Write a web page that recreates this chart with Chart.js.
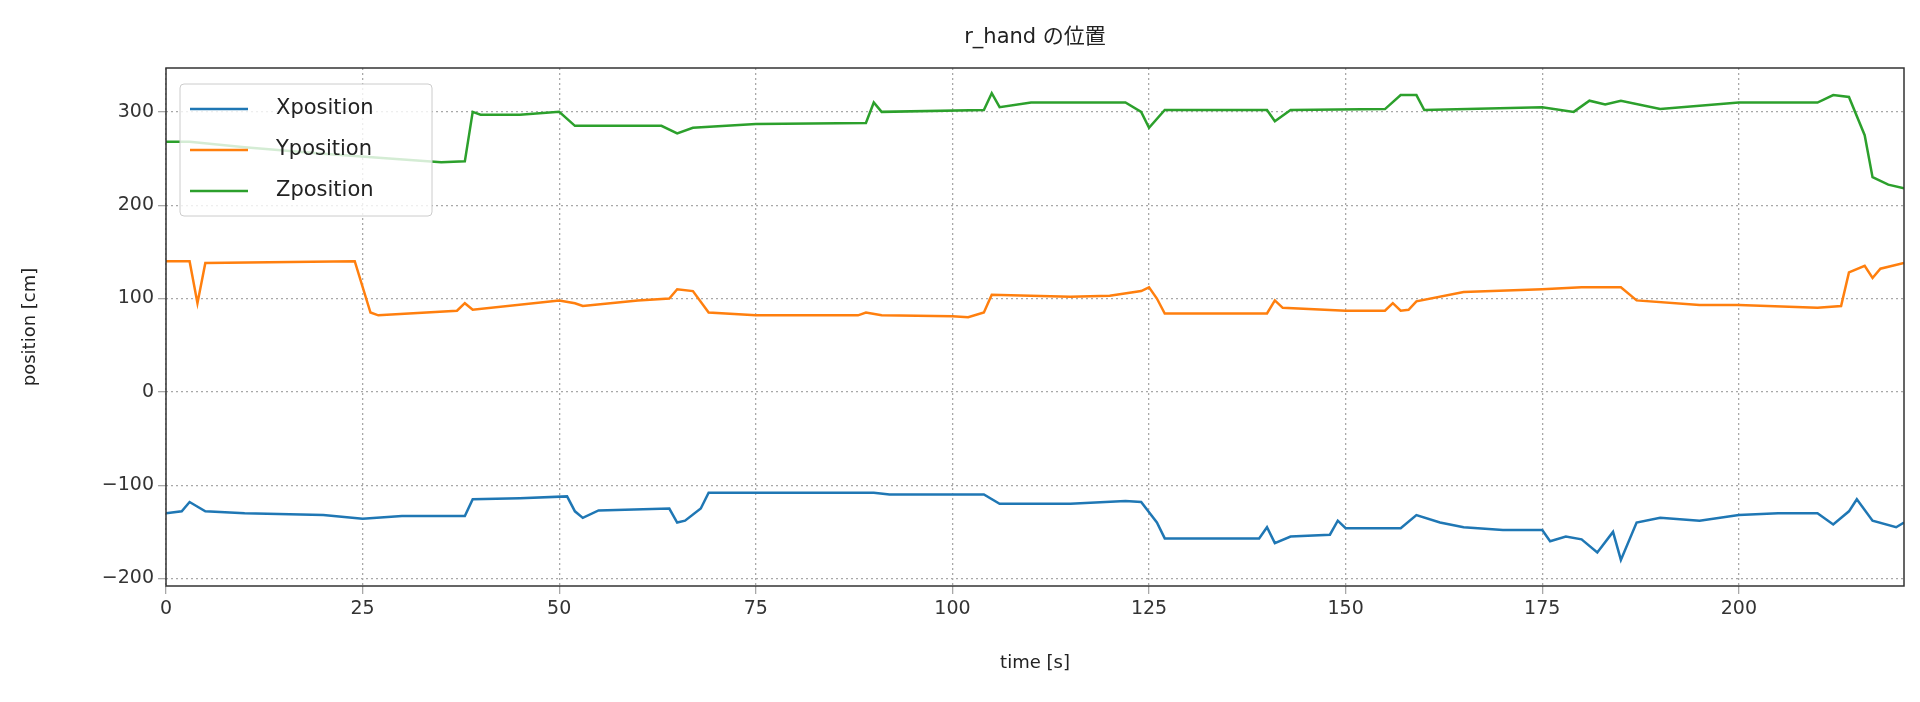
<!DOCTYPE html>
<html><head><meta charset="utf-8">
<script src="https://cdn.jsdelivr.net/npm/chart.js@4/dist/chart.umd.min.js"></script>
<style>html,body{margin:0;padding:0;background:#fff}canvas{display:block}</style>
</head><body>
<div style="width:1920px;height:702px"><canvas id="c" width="1920" height="702"></canvas></div>
<script>
const seriesNames = ["Xposition","Yposition","Zposition"];
const xTime = [0,2,3,5,10,20,25,30,38,39,45,51,52,53,55,64,65,66,68,69,80,90,92,99,104,106,115,122,124,126,127,139,140,141,143,148,149,150,157,159,162,165,170,175,176,178,180,182,184,185,187,190,195,200,205,210,212,214,215,217,220,221];
const xVals = [-130,-128,-118,-128,-130,-132,-136,-133,-133,-115,-114,-112,-128,-135,-127,-125,-140,-138,-125,-108,-108,-108,-110,-110,-110,-120,-120,-117,-118,-140,-157,-157,-145,-162,-155,-153,-138,-146,-146,-132,-140,-145,-148,-148,-160,-155,-158,-172,-150,-180,-140,-135,-138,-132,-130,-130,-142,-128,-115,-138,-145,-140];
const yTime = [0,3,4,5,24,26,27,37,38,39,50,52,53,60,64,65,67,69,75,88,89,91,100,102,104,105,115,120,124,125,126,127,140,141,142,150,155,156,157,158,159,165,175,180,184,185,187,195,200,210,213,214,216,217,218,221];
const yVals = [140,140,95,138,140,85,82,87,95,88,98,95,92,98,100,110,108,85,82,82,85,82,81,80,85,104,102,103,108,112,100,84,84,98,90,87,87,95,87,88,97,107,110,112,112,112,98,93,93,90,92,128,135,122,132,138];
const zTime = [0,3,10,20,35,38,39,40,45,50,52,55,63,65,67,75,89,90,91,104,105,106,110,122,124,125,127,140,141,143,155,157,159,160,175,179,181,183,185,190,200,210,212,214,216,217,219,221];
const zVals = [268,268,262,255,246,247,300,297,297,300,285,285,285,277,283,287,288,310,300,302,320,305,310,310,300,283,302,302,290,302,303,318,318,302,305,300,312,308,312,303,310,310,318,316,275,230,222,218];
const xTicks = [0,25,50,75,100,125,150,175,200];
const yTicks = [-200,-100,0,100,200,300];
const colors = ["#1f77b4","#ff7f0e","#2ca02c"];
const mk = (t,v)=>t.map((x,i)=>({x:x,y:v[i]}));
const F = "'DejaVu Sans', sans-serif";
const titlePlugin = {id:'tl', afterDraw(ch){
  const c=ch.ctx, a=ch.chartArea;
  c.save();
  c.font="21px 'DejaVu Sans','Noto Sans CJK JP',sans-serif"; c.fillStyle="#222"; c.textAlign="center"; c.textBaseline="middle";
  c.fillText("r_hand の位置",(a.left+a.right)/2,38);
  c.strokeStyle="#333"; c.lineWidth=1.5; c.strokeRect(a.left,a.top,a.right-a.left,a.bottom-a.top);
  const lx=a.left+14, ly=a.top+16, w=252, h=132;
  c.fillStyle="rgba(255,255,255,0.8)"; c.strokeStyle="#ccc"; c.lineWidth=1;
  c.beginPath(); c.roundRect(lx,ly,w,h,4); c.fill(); c.stroke();
  c.font="21px "+F; c.textAlign="left";
  ch.data.datasets.forEach((d,i)=>{
    const yy=ly+25+i*41;
    c.strokeStyle=d.borderColor; c.lineWidth=2.5; c.beginPath(); c.moveTo(lx+10,yy); c.lineTo(lx+68,yy); c.stroke();
    c.fillStyle="#222"; c.fillText(d.label,lx+96,yy);
  });
  c.restore();
}};
new Chart(document.getElementById('c'),{
  type:'line',
  data:{datasets:[
    {label:seriesNames[0],data:mk(xTime,xVals),borderColor:colors[0]},
    {label:seriesNames[1],data:mk(yTime,yVals),borderColor:colors[1]},
    {label:seriesNames[2],data:mk(zTime,zVals),borderColor:colors[2]}
  ]},
  options:{
    responsive:false,animation:false,
    layout:{padding:{top:68,right:16,left:16,bottom:24}},
    elements:{point:{radius:0},line:{borderWidth:2.5,tension:0}},
    plugins:{legend:{display:false},title:{display:false},tooltip:{enabled:false}},
    scales:{
      x:{type:'linear',min:0,max:221,
        afterFit(s){s.height=92;},
        afterBuildTicks(s){s.ticks=xTicks.map(v=>({value:v}));},
        grid:{color:'#a8a8a8',lineWidth:1.3,tickLength:8,drawTicks:true},
        border:{display:false,dash:[2,3]},
        ticks:{color:'#333',font:{size:19,family:F},padding:4,maxRotation:0},
        title:{display:true,text:'time [s]',color:'#222',font:{size:18,family:F},padding:{top:8}}
      },
      y:{type:'linear',min:-208,max:347,
        afterFit(s){s.width=150;},
        afterBuildTicks(s){s.ticks=yTicks.map(v=>({value:v}));},
        grid:{color:'#a8a8a8',lineWidth:1.3,tickLength:8},
        border:{display:false,dash:[2,3]},
        ticks:{color:'#333',font:{size:19,family:F},padding:4,callback:v=>String(v).replace('-','\u2212')},
        title:{display:true,text:'position [cm]',color:'#222',font:{size:18,family:F},padding:{bottom:6}}
      }
    }
  },
  plugins:[titlePlugin]
});
</script>
</body></html>
